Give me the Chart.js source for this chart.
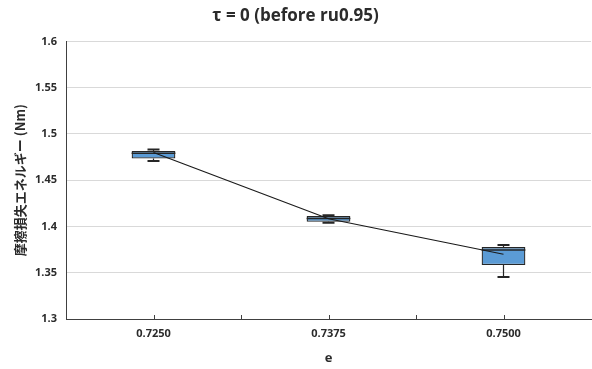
<!DOCTYPE html>
<html>
<head>
<meta charset="utf-8">
<script src="https://cdn.jsdelivr.net/npm/chart.js@4/dist/chart.umd.min.js"></script>
<style>
  body { margin: 0; background: #fff; }
  #wrap { width: 592px; height: 369px; position: relative; }
</style>
</head>
<body>
<div id="wrap"><canvas id="boxChart"></canvas></div>
<script>
var categories = ['0.7250', '0.7375', '0.7500'];
var minVals = [1.4708, 1.4040, 1.3453];
var q1Vals = [1.4734, 1.4050, 1.3583];
var medianVals = [1.4791, 1.4085, 1.3745];
var q3Vals = [1.4816, 1.4112, 1.3777];
var maxVals = [1.4831, 1.4122, 1.3800];
var meanVals = [1.4800, 1.4083, 1.3700];

var axisColor = '#404040';
var textColor = '#2b2b2b';

function getBoxRanges() {
    let ranges = new Array(categories.length);
    for (var i = 0; i < categories.length; i++)
        ranges[i] = [q1Vals[i], q3Vals[i]];
    return ranges;
}

// whiskers, caps and median on top of the boxes, below the mean line
var boxExtras = {
    id: 'boxExtras',
    afterDatasetDraw: function (chart, args) {
        if (args.index != 1) return;
        let ctx = chart.ctx;
        let x = chart.scales.x, y = chart.scales.y;
        ctx.save();
        ctx.strokeStyle = '#262626';
        for (var i = 0; i < categories.length; i++) {
            let cx = x.getPixelForValue(i);
            let half = args.meta.data[i].width / 2;
            let yMin = y.getPixelForValue(minVals[i]);
            let yQ1 = y.getPixelForValue(q1Vals[i]);
            let yQ3 = y.getPixelForValue(q3Vals[i]);
            let yMax = y.getPixelForValue(maxVals[i]);
            let yMed = y.getPixelForValue(medianVals[i]);

            ctx.lineWidth = 1.2;
            ctx.beginPath();
            ctx.moveTo(cx, yQ3); ctx.lineTo(cx, yMax);
            ctx.moveTo(cx, yQ1); ctx.lineTo(cx, yMin);
            ctx.stroke();

            ctx.lineWidth = 2;
            ctx.beginPath();
            ctx.moveTo(cx - 6, yMax); ctx.lineTo(cx + 6, yMax);
            ctx.moveTo(cx - 6, yMin); ctx.lineTo(cx + 6, yMin);
            ctx.stroke();

            ctx.lineWidth = 1.5;
            ctx.beginPath();
            ctx.moveTo(cx - half, yMed); ctx.lineTo(cx + half, yMed);
            ctx.stroke();
        }
        ctx.restore();
    },
    afterDraw: function (chart) {
        // short tick marks pointing up from the x axis
        let ctx = chart.ctx;
        let x = chart.scales.x;
        let base = chart.chartArea.bottom;
        ctx.save();
        ctx.strokeStyle = axisColor;
        ctx.lineWidth = 1;
        ctx.beginPath();
        for (var v = 0; v <= categories.length - 1; v += 0.5) {
            let px = Math.round(x.getPixelForValue(v)) + 0.5;
            ctx.moveTo(px, base);
            ctx.lineTo(px, base - 4);
        }
        ctx.stroke();
        ctx.restore();
    }
};

var ctx = document.getElementById('boxChart').getContext('2d');
var boxChart = new Chart(ctx, {
    data: {
        labels: categories,
        datasets: [{
            type: 'line',
            label: 'mean',
            data: meanVals,
            borderColor: '#1a1a1a',
            borderWidth: 1.2,
            pointRadius: 0,
            tension: 0,
            order: 0
        }, {
            type: 'bar',
            label: 'box',
            data: getBoxRanges(),
            backgroundColor: '#5b9bd5',
            borderColor: '#262626',
            borderWidth: 1.3,
            borderSkipped: false,
            categoryPercentage: 1,
            barPercentage: 0.25,
            order: 1
        }]
    },
    options: {
        responsive: true,
        maintainAspectRatio: false,
        animation: false,
        layout: {
            padding: { left: 0, right: 1, top: 0, bottom: 0 }
        },
        plugins: {
            legend: { display: false },
            tooltip: { enabled: false },
            title: {
                display: true,
                text: 'τ = 0 (before ru0.95)',
                color: textColor,
                font: { family: 'Open Sans', size: 17, weight: 'bold', lineHeight: 1.2 },
                padding: { top: 6, bottom: 15 }
            }
        },
        scales: {
            x: {
                type: 'category',
                offset: true,
                grid: { display: false, drawTicks: false },
                border: { display: true, color: axisColor, width: 1 },
                ticks: {
                    color: textColor,
                    padding: 8,
                    font: { family: 'Open Sans', size: 11, weight: 'bold' }
                },
                title: {
                    display: true,
                    text: 'e',
                    color: textColor,
                    font: { family: 'Open Sans', size: 13, weight: 'bold' },
                    padding: { top: 0, bottom: 3 }
                },
                afterFit: function (scale) { scale.height = 50; }
            },
            y: {
                min: 1.3,
                max: 1.6,
                grid: { color: '#d9d9d9', drawTicks: false },
                border: { display: true, color: axisColor, width: 1 },
                ticks: {
                    stepSize: 0.05,
                    padding: 9,
                    color: textColor,
                    font: { family: 'Open Sans', size: 11, weight: 'bold' },
                    callback: function (v) { return String(+v.toFixed(2)); }
                },
                title: {
                    display: true,
                    text: '摩擦損失エネルギー (Nm)',
                    color: textColor,
                    font: { family: 'Noto Sans CJK JP', size: 13, weight: 'bold' },
                    padding: { top: 12, bottom: 0 }
                },
                afterFit: function (scale) { scale.width = 66; }
            }
        }
    },
    plugins: [boxExtras]
});
</script>
</body>
</html>
